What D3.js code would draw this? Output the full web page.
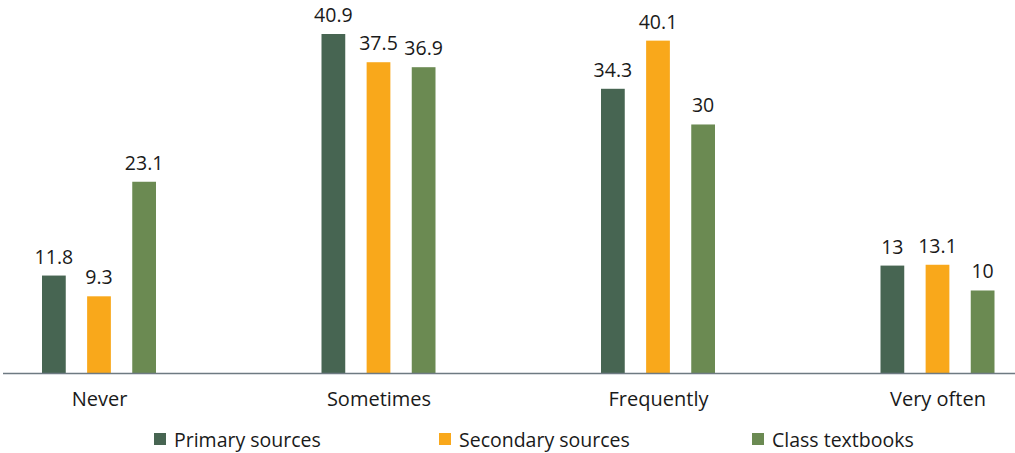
<!DOCTYPE html>
<html>
<head>
<meta charset="utf-8">
<script src="https://cdn.jsdelivr.net/npm/d3@7"></script>
<style>
  html, body { margin: 0; padding: 0; background: #fff; }
  svg text { font-family: "Open Sans", "Noto Sans", sans-serif; fill: #1a1a1a; }
</style>
</head>
<body>
<svg id="chart" width="1015" height="453"></svg>
<script>
// Frequency of use by source type
const categories = ["Never", "Sometimes", "Frequently", "Very often"];
const seriesNames = ["Primary sources", "Secondary sources", "Class textbooks"];
const primary = [11.8, 40.9, 34.3, 13];
const secondary = [9.3, 37.5, 40.1, 13.1];
const textbooks = [23.1, 36.9, 30, 10];
const colors = ["#476552", "#f9a81b", "#6b8a52"];

const series = [primary, secondary, textbooks];

const svg = d3.select("#chart");
const baseline = 373.5;

const x = d3.scalePoint().domain(categories).range([99, 937.5]);
const xInner = d3.scaleBand().domain(seriesNames).range([-57, 57]).paddingInner(0.4737).paddingOuter(0);
const y = d3.scaleLinear().domain([0, 40.9]).range([baseline, 34]);

// bars with value labels
series.forEach((vals, si) => {
  const g = svg.append("g");
  g.selectAll("rect").data(vals).join("rect")
    .attr("x", (d, i) => x(categories[i]) + xInner(seriesNames[si]))
    .attr("y", d => y(d))
    .attr("width", xInner.bandwidth())
    .attr("height", d => baseline - y(d))
    .attr("fill", colors[si]);
  g.selectAll("text").data(vals).join("text")
    .attr("x", (d, i) => x(categories[i]) + xInner(seriesNames[si]) + xInner.bandwidth() / 2)
    .attr("y", d => y(d) - 12)
    .attr("text-anchor", "middle")
    .attr("font-size", 19.5)
    .text(d => d);
});

// baseline axis
svg.append("line")
  .attr("x1", 3).attr("x2", 1015)
  .attr("y1", baseline).attr("y2", baseline)
  .attr("stroke", "#6e7a82").attr("stroke-width", 1.5);

const xAxis = d3.axisBottom(x).tickSize(0).tickPadding(0);
const ax = svg.append("g").attr("transform", `translate(0,${baseline})`).call(xAxis);
ax.select(".domain").remove();
ax.selectAll("text")
  .attr("y", 32).attr("dy", null)
  .attr("font-size", 20)
  .style("font-family", "\"Open Sans\", \"Noto Sans\", sans-serif")
  .attr("fill", "#1a1a1a");

// legend
const legendX = [154, 439, 752];
const legend = svg.append("g");
seriesNames.forEach((name, i) => {
  legend.append("rect")
    .attr("x", legendX[i]).attr("y", 433)
    .attr("width", 12).attr("height", 12)
    .attr("fill", colors[i]);
  legend.append("text")
    .attr("x", legendX[i] + 20).attr("y", 447)
    .attr("font-size", 19.5)
    .text(name);
});
</script>
</body>
</html>
